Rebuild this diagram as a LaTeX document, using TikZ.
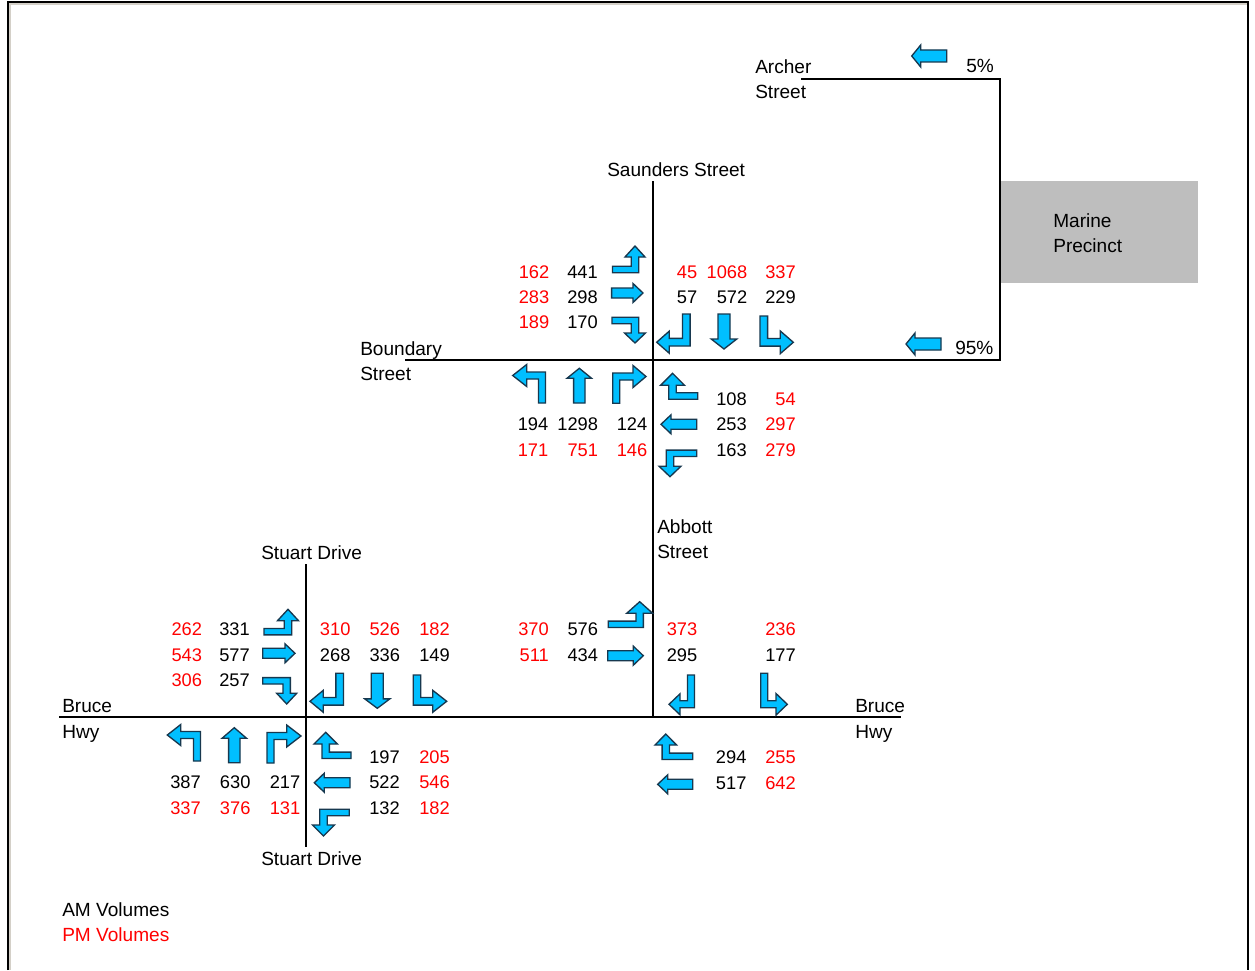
\documentclass[tikz,border=0pt]{standalone}
\usepackage{fontspec}
\setmainfont{Liberation Sans}
\definecolor{arrowfill}{HTML}{00BFFF}
\definecolor{arrowedge}{HTML}{17384F}
\definecolor{vol}{HTML}{FF0000}
\definecolor{precinct}{HTML}{BEBEBE}
\definecolor{framegray}{HTML}{D4D0C8}
\tikzset{
  arw/.style={fill=arrowfill,draw=arrowedge,line width=1pt,line join=miter},
  road/.style={draw=black,line width=0.9pt},
  numtext/.style={inner sep=0pt,anchor=base east,font=\fontsize{13.7}{16}\selectfont},
  lbl/.style={inner sep=0pt,anchor=base west,font=\fontsize{14.3}{16}\selectfont,text=black},
  amstyle/.style={numtext,text=black},
  pmstyle/.style={numtext,text=vol}
}
% straight horizontal: xTail xTip yc w h l
\newcommand{\sH}[6]{%
  \pgfmathsetmacro{\dd}{(#2>#1)?1:-1}%
  \pgfmathsetmacro{\xb}{#2-\dd*#6}%
  \draw[arw] (#1,#3-#4) -- (\xb,#3-#4) -- (\xb,#3-#5) -- (#2,#3) -- (\xb,#3+#5) -- (\xb,#3+#4) -- (#1,#3+#4) -- cycle;}
% straight vertical: xc yTail yTip w h l
\newcommand{\sV}[6]{%
  \pgfmathsetmacro{\dd}{(#3>#2)?1:-1}%
  \pgfmathsetmacro{\yb}{#3-\dd*#6}%
  \draw[arw] (#1-#4,#2) -- (#1-#4,\yb) -- (#1-#5,\yb) -- (#1,#3) -- (#1+#5,\yb) -- (#1+#4,\yb) -- (#1+#4,#2) -- cycle;}
% horizontal then vertical: xTail yc xc yTip w h l
\newcommand{\tHV}[7]{%
  \pgfmathsetmacro{\dx}{(#3>#1)?1:-1}%
  \pgfmathsetmacro{\dy}{(#4>#2)?1:-1}%
  \pgfmathsetmacro{\yb}{#4-\dy*#7}%
  \pgfmathsetmacro{\yin}{#2+\dy*(#5-0.8)}%
  \pgfmathsetmacro{\yout}{#2-\dy*(#5-0.8)}%
  \pgfmathsetmacro{\xin}{#3-\dx*(#5-0.3)}%
  \pgfmathsetmacro{\xout}{#3+\dx*(#5-0.3)}%
  \pgfmathsetmacro{\xhi}{#3-\dx*#6}%
  \pgfmathsetmacro{\xho}{#3+\dx*#6}%
  \draw[arw] (#1,\yin) -- (\xin,\yin) -- (\xin,\yb) -- (\xhi,\yb) -- (#3,#4) -- (\xho,\yb) -- (\xout,\yb) -- (\xout,\yout) -- (#1,\yout) -- cycle;}
% vertical then horizontal: xc yTail yc xTip w h l
\newcommand{\tVH}[7]{%
  \pgfmathsetmacro{\dx}{(#4>#1)?1:-1}%
  \pgfmathsetmacro{\dy}{(#3>#2)?1:-1}%
  \pgfmathsetmacro{\xb}{#4-\dx*#7}%
  \pgfmathsetmacro{\xin}{#1+\dx*(#5-0.5)}%
  \pgfmathsetmacro{\xout}{#1-\dx*(#5-0.5)}%
  \pgfmathsetmacro{\yin}{#3-\dy*(#5-0.5)}%
  \pgfmathsetmacro{\yout}{#3+\dy*(#5-0.5)}%
  \pgfmathsetmacro{\yhi}{#3-\dy*#6}%
  \pgfmathsetmacro{\yho}{#3+\dy*#6}%
  \draw[arw] (\xin,#2) -- (\xin,\yin) -- (\xb,\yin) -- (\xb,\yhi) -- (#4,#3) -- (\xb,\yho) -- (\xb,\yout) -- (\xout,\yout) -- (\xout,#2) -- cycle;}
\newcommand{\amv}[4]{\node[amstyle] (#1) at (#2,#3) {#4};}
\newcommand{\pmv}[4]{\node[pmstyle] (#1) at (#2,#3) {#4};}
\newcommand{\lbv}[4]{\node[lbl] (#1) at (#2,#3) {#4};}
\begin{document}
\begin{tikzpicture}[x=0.75pt,y=-0.75pt]
\useasboundingbox (0,0) rectangle (1255,970);
\fill[white] (0,0) rectangle (1255,970);
% page frame
\coordinate (fbl) at (8,970); \coordinate (ftl) at (8,2); \coordinate (ftr) at (1248,2); \coordinate (fbr) at (1248,970);
\draw[draw=framegray,line width=1.2pt] (10,970) -- (10,4) -- (1247,4);
\draw[black,line width=1.5pt] (fbl) -- (ftl) -- (ftr) -- (fbr);
% precinct
\node[fill=precinct,minimum width=148pt,minimum height=76.5pt,inner sep=0pt,anchor=north west] (precinctbox) at (1000,181) {};
% roads
\coordinate (arch) at (801,79); \coordinate (archc) at (1000,79); \coordinate (bndc) at (1000,360);
\coordinate (bnd) at (405,360); \coordinate (saun) at (653,181); \coordinate (abb) at (653,717);
\coordinate (brw) at (59,717); \coordinate (bre) at (901,717);
\coordinate (stn) at (306,564); \coordinate (sts) at (306,847);
\draw[road] (arch) -- (archc) -- (bndc) -- (bnd);
\draw[road] (saun) -- (abb);
\draw[road] (brw) -- (bre);
\draw[road] (stn) -- (sts);
% percent arrows
\sH{946.7}{911.7}{56}{6}{11}{9}
\sH{941}{906}{344}{6}{11}{9}
% Intersection 1
\tHV{612.5}{269.5}{635}{246}{4}{10}{11}
\sH{611.6}{643}{293}{5}{9.5}{10}
\tHV{612}{320.5}{635}{343}{4}{10.5}{10}
\tVH{542}{403}{375.5}{512.7}{4}{11}{14}
\sV{579.3}{403}{368.3}{5.7}{12.3}{10}
\tVH{616.3}{403.3}{376.5}{646}{4}{11}{13}
\tHV{697.7}{396}{672.5}{373.3}{4}{12}{12}
\sH{696.7}{661}{424.3}{5}{9.5}{10}
\tHV{696.7}{453.3}{670}{476.7}{4}{11}{10.5}
\tVH{686.3}{314}{342.2}{656.7}{4.3}{11}{12.5}
\sV{724}{314}{349}{6}{12.8}{10}
\tVH{763.8}{316}{342.3}{793.3}{4.3}{11.3}{13}
% Intersection 2
\tHV{264}{631.7}{288}{609.3}{4}{10.5}{11.4}
\sH{262.7}{295}{653.3}{5}{9.5}{10}
\tHV{262.7}{680.8}{286.7}{704}{4}{10}{10.7}
\tVH{197}{761}{735}{167.3}{4}{10.5}{13.4}
\sV{234.3}{762.7}{727.7}{5.7}{12.3}{10.6}
\tVH{270.5}{763}{736}{301}{4}{11}{14.3}
\tHV{351}{755.3}{325.7}{732.3}{4}{11.7}{11.7}
\sH{350}{314.3}{782.7}{5}{9.5}{10}
\tHV{349.3}{812.5}{323.5}{836}{4}{11}{11}
\tVH{339.7}{673.3}{701.3}{310}{4.3}{11}{13.3}
\sV{377.3}{673.3}{708.3}{6}{12.5}{9.4}
\tVH{417}{675}{701.3}{446.7}{4.3}{11}{14}
% Intersection 3
\tHV{608.3}{624.3}{639.7}{601.7}{4}{13}{11.6}
\sH{607.7}{643.3}{655.7}{5}{9.5}{10}
\tVH{691}{675}{704.3}{669}{4}{10.5}{11}
\tVH{764.3}{673.3}{704.3}{787.3}{4}{10.8}{11.3}
\tHV{692.7}{756.3}{665.8}{734}{4}{10.8}{11}
\sH{692.7}{657.7}{784.3}{5}{9.5}{10}
% Intersection 1 volumes
\pmv{a1}{549.5}{278}{162}\amv{a2}{598}{278}{441}
\pmv{a3}{549.5}{303.3}{283}\amv{a4}{598}{303.3}{298}
\pmv{a5}{549.5}{328.7}{189}\amv{a6}{598}{328.7}{170}
\pmv{a7}{697.5}{278}{45}\pmv{a8}{747.5}{278}{1068}\pmv{a9}{796}{278}{337}
\amv{a10}{697.5}{303.3}{57}\amv{a11}{747.5}{303.3}{572}\amv{a12}{796}{303.3}{229}
\amv{a13}{548.5}{430.7}{194}\amv{a14}{598.3}{430.7}{1298}\amv{a15}{647.5}{430.7}{124}
\pmv{a16}{548.5}{456.7}{171}\pmv{a17}{598.3}{456.7}{751}\pmv{a18}{647.5}{456.7}{146}
\amv{a19}{747}{405.7}{108}\pmv{a20}{796}{405.7}{54}
\amv{a21}{747}{430.7}{253}\pmv{a22}{796}{430.7}{297}
\amv{a23}{747}{456.7}{163}\pmv{a24}{796}{456.7}{279}
% Intersection 2 volumes
\pmv{b1}{202.3}{635.7}{262}\amv{b2}{250}{635.7}{331}
\pmv{b3}{202.3}{661}{543}\amv{b4}{250}{661}{577}
\pmv{b5}{202.3}{686}{306}\amv{b6}{250}{686}{257}
\pmv{b7}{350.7}{635.7}{310}\pmv{b8}{400.3}{635.7}{526}\pmv{b9}{450}{635.7}{182}
\amv{b10}{350.7}{661}{268}\amv{b11}{400.3}{661}{336}\amv{b12}{450}{661}{149}
\amv{b13}{201}{788.3}{387}\amv{b14}{250.7}{788.3}{630}\amv{b15}{300.5}{788.3}{217}
\pmv{b16}{201}{814}{337}\pmv{b17}{250.7}{814}{376}\pmv{b18}{300.5}{814}{131}
\amv{b19}{400}{763}{197}\pmv{b20}{450}{763}{205}
\amv{b21}{400}{788.7}{522}\pmv{b22}{450}{788.7}{546}
\amv{b23}{400}{814.5}{132}\pmv{b24}{450}{814.5}{182}
% Intersection 3 volumes
\pmv{c1}{549}{635.7}{370}\amv{c2}{598.3}{635.7}{576}
\pmv{c3}{549}{661}{511}\amv{c4}{598.3}{661}{434}
\pmv{c5}{697.5}{635.7}{373}\pmv{c6}{796}{635.7}{236}
\amv{c7}{697.5}{661}{295}\amv{c8}{796}{661}{177}
\amv{c9}{746.7}{763.3}{294}\pmv{c10}{796}{763.3}{255}
\amv{c11}{746.7}{789}{517}\pmv{c12}{796}{789}{642}
% labels
\lbv{l1}{755}{74}{Archer}
\lbv{l2}{755}{99}{Street}
\lbv{l3}{607}{176}{Saunders Street}
\lbv{l4}{360}{355}{Boundary}
\lbv{l5}{360}{380}{Street}
\lbv{l6}{657}{533}{Abbott}
\lbv{l7}{657}{558}{Street}
\lbv{l8}{261}{559}{Stuart Drive}
\lbv{l9}{261}{865}{Stuart Drive}
\lbv{l10}{62}{712}{Bruce}
\lbv{l11}{62}{738}{Hwy}
\lbv{l12}{855}{712}{Bruce}
\lbv{l13}{855}{738}{Hwy}
\lbv{l14}{1053}{227}{Marine}
\lbv{l15}{1053}{252}{Precinct}
\lbv{l16}{966}{73}{5\%}
\lbv{l17}{955}{354}{95\%}
\lbv{l18}{62}{916}{AM Volumes}
\node[lbl,text=vol] (l19) at (62,941) {PM Volumes};
\end{tikzpicture}
\end{document}
